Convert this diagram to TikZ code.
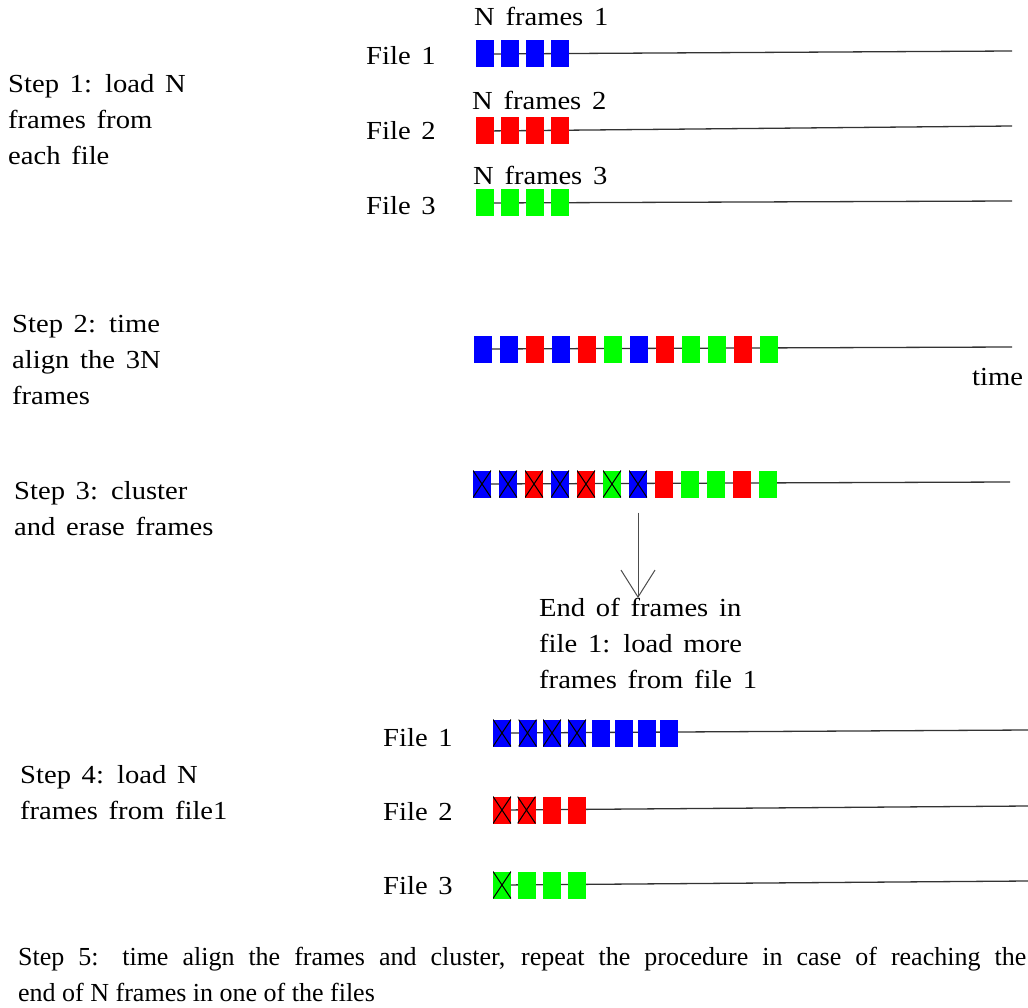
\documentclass[tikz,border=0pt]{standalone}
\usepackage{fontspec}
\setmainfont{Liberation Serif}[FakeStretch=1.1, WordSpace=1.5]
\newfontfamily\narrowserif{Liberation Serif}
\usetikzlibrary{arrows.meta,backgrounds}

\tikzset{
    fbox/.style={rectangle, minimum width=18pt, minimum height=27pt, inner sep=0pt},
    keep/.style={},
    erased/.style={path picture={
        \draw[black, line width=1pt] (path picture bounding box.north west) -- (path picture bounding box.south east)
            (path picture bounding box.north east) -- (path picture bounding box.south west);}},
    timeline/.style={draw=black!80, line width=1.3pt},
    steptext/.style={anchor=north west, inner sep=0pt, align=left},
    label/.style={anchor=base west, inner sep=0pt},
    pointer/.style={draw=black!70, line width=1pt, -{Straight Barb[length=27pt, width=34pt]}}
}

\begin{document}
\begin{tikzpicture}[x=1pt, y=-1pt, font=\fontsize{26}{36}\selectfont]

        \useasboundingbox (0,0) rectangle (1028,1008);

        % --- Step 1: tre file, N frame ciascuno ---
        \node[steptext] (step1) at (8,74) {Step 1: load N\\frames from\\each file};
        \node[label] (file1a) at (366,65) {File 1};
        \node[label] (file2a) at (366,140) {File 2};
        \node[label] (file3a) at (366,215) {File 3};
        \node[label] (nfr1) at (474,26) {N frames 1};
        \node[label] (nfr2) at (472,110) {N frames 2};
        \node[label] (nfr3) at (473,185) {N frames 3};

        \foreach \x [count=\i] in {484.5, 509.5, 534.5, 559.5} {
            \node[fbox, fill=blue] (fa\i) at (\x,54) {};
            \node[fbox, fill=red] (fb\i) at (\x,131) {};
            \node[fbox, fill=green] (fg\i) at (\x,203) {};
        }
        \coordinate (enda) at (1012,51);
        \coordinate (endb) at (1012,126);
        \coordinate (endg) at (1012,201);

        % --- Step 2: allineamento temporale ---
        \node[steptext] (step2) at (12,315) {Step 2: time\\align the 3N\\frames};
        \foreach \c [count=\i] in {blue, blue, red, blue, red, green, blue, red, green, green, red, green} {
            \node[fbox, fill=\c] (fs\i) at (457+26*\i,349) {};
        }
        \coordinate (ends) at (1012,347);
        \node[label] (time) at (972,385) {time};

        % --- Step 3: cluster e cancellazione ---
        \node[steptext] (step3) at (14,481) {Step 3: cluster\\and erase frames};
        \foreach \c/\m [count=\i] in {blue/erased, blue/erased, red/erased, blue/erased, red/erased, green/erased,
                blue/erased, red/keep, green/keep, green/keep, red/keep, green/keep} {
            \node[fbox, fill=\c, \m] (fc\i) at (456+26*\i,484) {};
        }
        \coordinate (endc) at (1010,482);

        \node[steptext] (endnote) at (539,598) {End of frames in\\file 1: load more\\frames from file 1};
        \draw[pointer] ([yshift=-15pt]fc7.south) -- (fc7.south |- endnote.north);

        % --- Step 4: nuovi frame dal file 1 ---
        \node[steptext] (step4) at (20,765) {Step 4: load N\\frames from file1};
        \node[label] (file1b) at (383,746) {File 1};
        \node[label] (file2b) at (383,820) {File 2};
        \node[label] (file3b) at (383,894) {File 3};

        \foreach \x/\m [count=\i] in {502/erased, 527.5/erased, 552/erased, 577/erased, 600.5/keep, 623.5/keep, 647/keep, 668.5/keep} {
            \node[fbox, fill=blue, \m] (ga\i) at (\x,733) {};
        }
        \foreach \x/\m [count=\i] in {502/erased, 526.5/erased, 551.5/keep, 576.5/keep} {
            \node[fbox, fill=red, \m] (gb\i) at (\x,810) {};
        }
        \foreach \x/\m [count=\i] in {502/erased, 526.5/keep, 551.5/keep, 576.5/keep} {
            \node[fbox, fill=green, \m] (gg\i) at (\x,885) {};
        }
        \coordinate (endga) at (1028,730);
        \coordinate (endgb) at (1028,806);
        \coordinate (endgg) at (1028,881);

        % --- Linee temporali dietro i frame ---
        \begin{scope}[on background layer]
            \draw[timeline] (fa1.center) -- (enda);
            \draw[timeline] (fb1.center) -- (endb);
            \draw[timeline] (fg1.center) -- (endg);
            \draw[timeline] (fs1.center) -- (ends);
            \draw[timeline] (fc1.center) -- (endc);
            \draw[timeline] (ga1.center) -- (endga);
            \draw[timeline] (gb1.center) -- (endgb);
            \draw[timeline] (gg1.center) -- (endgg);
        \end{scope}

        % --- Step 5 ---
        \node[steptext, text width=1008pt, align=justify, font=\fontsize{26}{36}\selectfont\narrowserif]
            (step5) at (18,947) {\tolerance=10000\relax Step 5: time align the frames and cluster, repeat the procedure in case of reaching the\linebreak end of N frames in one of the files};

    \end{tikzpicture}
\end{document}
